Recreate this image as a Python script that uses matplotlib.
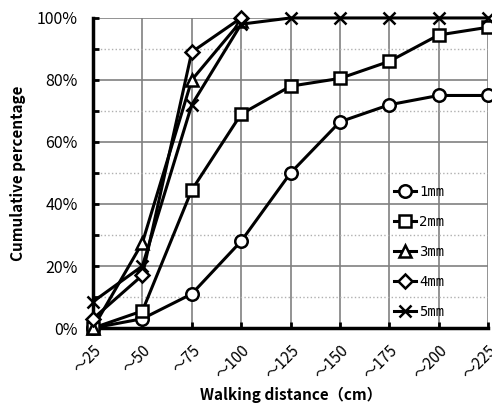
import matplotlib.pyplot as plt
from matplotlib.ticker import MultipleLocator, FixedLocator

plt.rcParams['font.family'] = ['Noto Sans CJK JP', 'DejaVu Sans']

categories = ["～25", "～50", "～75", "～100", "～125", "～150", "～175", "～200", "～225"]
series_labels = ["1mm", "2mm", "3mm", "4mm", "5mm"]
pct_1mm = [0, 3, 11, 28, 50, 66.5, 72, 75, 75]
pct_2mm = [0, 5.5, 44.5, 69, 78, 80.5, 86, 94.5, 97]
pct_3mm = [0, 27.5, 80, 99]
pct_4mm = [3, 17, 89, 100]
pct_5mm = [8.5, 20, 72, 98, 100, 100, 100, 100, 100]
markers = ["o", "s", "^", "D", "x"]
sizes = [9, 9, 9, 7, 9]

fig = plt.figure(figsize=(4.92, 4.08), dpi=100)
ax = fig.add_axes([0.189, 0.196, 0.803, 0.760])

for vals, lab, m, ms in zip([pct_1mm, pct_2mm, pct_3mm, pct_4mm, pct_5mm],
                            series_labels, markers, sizes):
    ax.plot(range(len(vals)), vals, color="black", linewidth=2.2, marker=m,
            markersize=ms, markerfacecolor="white", markeredgecolor="black",
            markeredgewidth=1.8, label=lab, clip_on=False, zorder=3)

x = list(range(len(categories)))
ax.set_xlim(0, len(categories) - 1)
ax.set_ylim(0, 100)
ax.xaxis.set_major_locator(FixedLocator(x))
ax.set_xticklabels(categories, rotation=45, ha="right", rotation_mode="anchor",
                   fontsize=11)
ax.yaxis.set_minor_locator(MultipleLocator(10))
ax.set_yticks([0, 20, 40, 60, 80, 100])
ax.set_yticklabels(["0%", "20%", "40%", "60%", "80%", "100%"], fontsize=11.5)

ax.grid(axis="x", color="#808080", linewidth=1.2)
ax.grid(axis="y", which="major", color="#808080", linewidth=1.2)
ax.grid(axis="y", which="minor", color="#b0b0b0", linewidth=1.0, linestyle=":")
ax.set_axisbelow(True)

for side in ["top", "right"]:
    ax.spines[side].set_visible(False)
for side in ["left", "bottom"]:
    ax.spines[side].set_linewidth(2.5)
ax.tick_params(axis="both", which="both", direction="in", width=2, length=4)
ax.tick_params(axis="y", which="major", pad=11)
ax.tick_params(axis="x", which="major", pad=10)

ax.set_xlabel("Walking distance（cm）", fontsize=11, fontweight="bold", labelpad=3)
ax.set_ylabel("Cumulative percentage", fontsize=11, fontweight="bold", labelpad=8)

ax.legend(loc="lower left", bbox_to_anchor=(0.73, -0.01), frameon=False,
          handlelength=1.6, handletextpad=0.2, labelspacing=1.15,
          prop={"family": "DejaVu Sans Mono", "size": 10})

fig.savefig("out.png", dpi=100)
